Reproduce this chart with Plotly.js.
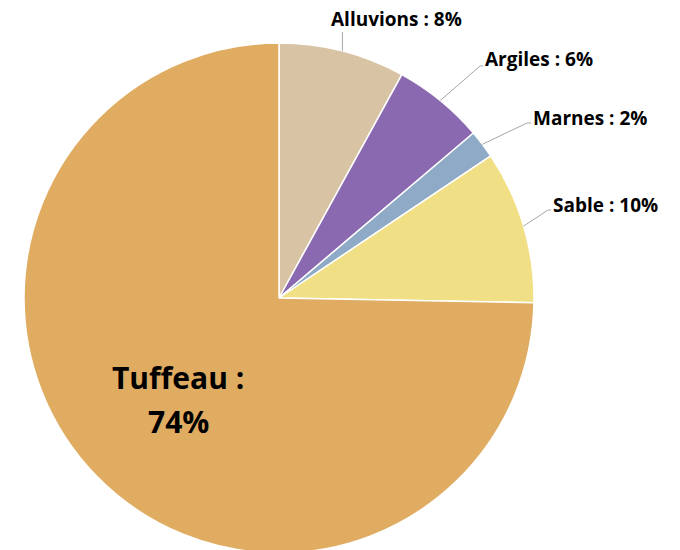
<!DOCTYPE html>
<html>
<head>
<meta charset="utf-8">
<script src="https://cdn.plot.ly/plotly-3.0.1.min.js"></script>
<style>
html,body{margin:0;padding:0;overflow:hidden;background:#fff;}
#chart{width:680px;height:600px;}
</style>
</head>
<body>
<div id="chart"></div>
<script>
// Data
const categories = ["Alluvions", "Argiles", "Marnes", "Sable", "Tuffeau"];
const values = [8.0, 5.8, 1.8, 9.7, 74.7];          // slice sizes
const labelPercents = [8, 6, 2, 10, 74];             // percentages printed on the labels
const colors = ["#D8C3A4", "#8B69B0", "#8FAAC6", "#F0DF84", "#E0AC62"];

// Layout geometry (pixels)
const W = 680, H = 600;
const M = {l: 24, r: 146, t: 43, b: 47};
const pw = W - M.l - M.r, ph = H - M.t - M.b;
const cx = M.l + pw / 2, cy = M.t + ph / 2, R = Math.min(pw, ph) / 2;
const px = x => (x - M.l) / pw;
const py = y => (H - M.b - y) / ph;

const total = values.reduce((a, b) => a + b, 0);
// edge point at mid angle of each slice (clockwise from 12 o'clock)
let cum = 0;
const tips = values.map(v => {
  const mid = (cum + v / 2) / total * 2 * Math.PI;
  cum += v;
  return [cx + R * Math.sin(mid), cy - R * Math.cos(mid)];
});

// label placements: [elbow x, elbow y, text x, text y, xanchor]
const labelPos = [
  [342, 32, 396, 19, "center"],
  [480, 66, 483, 59, "left"],
  [527, 123, 531, 118, "left"],
  [548, 210, 551, 205, "left"]
];

const FONT = "'Open Sans', 'Noto Sans', sans-serif";
const shapes = [], annotations = [];
labelPos.forEach((p, i) => {
  const [tx, ty] = tips[i];
  const ex = i === 0 ? tx : p[0];
  shapes.push({type: "line", xref: "paper", yref: "paper",
    x0: px(tx), y0: py(ty), x1: px(ex), y1: py(p[1]),
    line: {color: "#A6A6A6", width: 1}});
  if (i > 0) {
    shapes.push({type: "line", xref: "paper", yref: "paper",
      x0: px(ex), y0: py(p[1]), x1: px(p[2]), y1: py(p[1]),
      line: {color: "#A6A6A6", width: 1}});
  }
  annotations.push({xref: "paper", yref: "paper", x: px(p[2]), y: py(p[3]),
    xanchor: p[4], yanchor: "middle", showarrow: false,
    text: "<b>" + categories[i] + " : " + labelPercents[i] + "%</b>",
    font: {family: FONT, size: 19, color: "#000"}});
});
annotations.push({xref: "paper", yref: "paper", x: px(178), y: py(377),
  xanchor: "center", yanchor: "middle", showarrow: false,
  text: "<b>" + categories[4] + " :</b>",
  font: {family: FONT, size: 30, color: "#000"}});
annotations.push({xref: "paper", yref: "paper", x: px(178), y: py(421),
  xanchor: "center", yanchor: "middle", showarrow: false,
  text: "<b>" + labelPercents[4] + "%</b>",
  font: {family: FONT, size: 30, color: "#000"}});

const trace = {
  type: "pie",
  labels: categories,
  values: values,
  sort: false,
  direction: "clockwise",
  rotation: 0,
  textinfo: "none",
  hoverinfo: "label+percent",
  marker: {colors: colors, line: {color: "#FFFFFF", width: 1.5}},
  domain: {x: [0, 1], y: [0, 1]}
};

const layout = {
  width: W, height: H,
  margin: M,
  showlegend: false,
  paper_bgcolor: "#FFFFFF",
  shapes: shapes,
  annotations: annotations
};

Plotly.newPlot("chart", [trace], layout, {displayModeBar: false, staticPlot: true});
</script>
</body>
</html>
